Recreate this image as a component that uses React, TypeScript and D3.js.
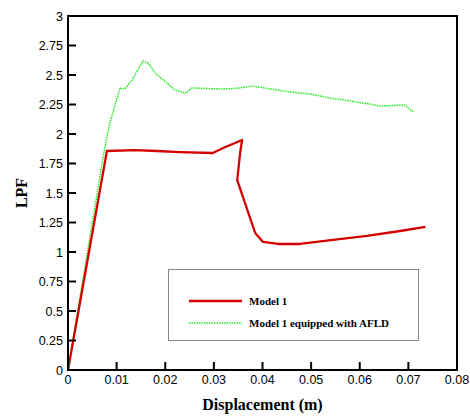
import * as d3 from "d3";
import React from "react";

// Model 1
const model1X = [0, 0.008, 0.0138, 0.0183, 0.023, 0.0298, 0.0319, 0.0358, 0.0354, 0.0348, 0.0385, 0.0401, 0.0432, 0.0477, 0.0545, 0.0615, 0.0683, 0.0735];
const model1Y = [0, 1.856, 1.864, 1.856, 1.847, 1.839, 1.881, 1.949, 1.839, 1.61, 1.161, 1.085, 1.068, 1.068, 1.102, 1.136, 1.178, 1.212];

// Model 1 equipped with AFLD
const afldX = [0, 0.0036, 0.0072, 0.008, 0.0086, 0.0107, 0.0117, 0.0132, 0.0154, 0.0165, 0.0179, 0.022, 0.0241, 0.0255, 0.0319, 0.0354, 0.0379, 0.043, 0.0457, 0.0498, 0.0539, 0.058, 0.0621, 0.0642, 0.0693, 0.07, 0.071];
const afldY = [0, 0.9, 1.8, 1.975, 2.093, 2.39, 2.381, 2.458, 2.619, 2.6, 2.517, 2.373, 2.347, 2.39, 2.381, 2.39, 2.407, 2.373, 2.356, 2.339, 2.305, 2.28, 2.254, 2.237, 2.246, 2.22, 2.186];

const xTicks = [0, 0.01, 0.02, 0.03, 0.04, 0.05, 0.06, 0.07, 0.08];
const yTicks = [0, 0.25, 0.5, 0.75, 1, 1.25, 1.5, 1.75, 2, 2.25, 2.5, 2.75, 3];

const seriesNames = ["Model 1", "Model 1 equipped with AFLD"];

export default function App() {
  const W = 470;
  const H = 417;
  const left = 68, right = 457, top = 16, bottom = 370;

  const x = d3.scaleLinear().domain([0, 0.08]).range([left, right]);
  const y = d3.scaleLinear().domain([0, 3]).range([bottom, top]);

  const line = d3
    .line<[number, number]>()
    .x((d) => x(d[0]))
    .y((d) => y(d[1]));

  const redPts = model1X.map((v, i) => [v, model1Y[i]] as [number, number]);
  const greenPts = afldX.map((v, i) => [v, afldY[i]] as [number, number]);

  const tickFont = "'Liberation Sans', Arial, sans-serif";
  const titleFont = "'Liberation Serif', 'Times New Roman', serif";

  return (
    <svg width={W} height={H} style={{ position: "absolute", left: 0, top: 0, background: "#fff" }}>
      {/* data */}
      <path d={line(greenPts) || ""} fill="none" stroke="#22ee22" strokeWidth={1.5} strokeDasharray="1.5,1" />
      <path d={line(redPts) || ""} fill="none" stroke="#d40000" strokeWidth={2.3} strokeLinejoin="round" />

      {/* ticks */}
      {xTicks.map((t) => (
        <g key={"x" + t}>
          <line x1={x(t)} x2={x(t)} y1={bottom} y2={bottom - 8} stroke="#000" strokeWidth={2} />
          <text x={x(t)} y={bottom + 14} textAnchor="middle" fontFamily={tickFont} fontSize={12.5} fill="#000">
            {t === 0 ? "0" : t.toFixed(2)}
          </text>
        </g>
      ))}
      {yTicks.map((t) => (
        <g key={"y" + t}>
          <line x1={left} x2={left + 8} y1={y(t)} y2={y(t)} stroke="#000" strokeWidth={2} />
          <text x={left - 5} y={y(t) + 4.5} textAnchor="end" fontFamily={tickFont} fontSize={12.5} fill="#000">
            {String(t)}
          </text>
        </g>
      ))}

      {/* frame */}
      <rect x={left} y={top} width={right - left} height={bottom - top} fill="none" stroke="#000" strokeWidth={2} />

      {/* legend */}
      <rect x={168.5} y={269.5} width={250} height={71} fill="#fff" stroke="#888" strokeWidth={1} />
      <line x1={189} x2={242} y1={301} y2={301} stroke="#d40000" strokeWidth={2.3} />
      <line x1={189} x2={242} y1={323} y2={323} stroke="#22ee22" strokeWidth={1.5} strokeDasharray="1.5,1" />
      <text x={249} y={304.5} fontFamily={titleFont} fontWeight="bold" fontSize={11} fill="#000">{seriesNames[0]}</text>
      <text x={249} y={326.5} fontFamily={titleFont} fontWeight="bold" fontSize={11} fill="#000">{seriesNames[1]}</text>

      {/* axis titles */}
      <text x={(left + right) / 2} y={410} textAnchor="middle" fontFamily={titleFont} fontWeight="bold" fontSize={16} fill="#000">
        Displacement (m)
      </text>
      <text
        transform={`translate(27,${(top + bottom) / 2}) rotate(-90)`}
        textAnchor="middle"
        fontFamily={titleFont}
        fontWeight="bold"
        fontSize={16}
        fill="#000"
      >
        LPF
      </text>
    </svg>
  );
}
